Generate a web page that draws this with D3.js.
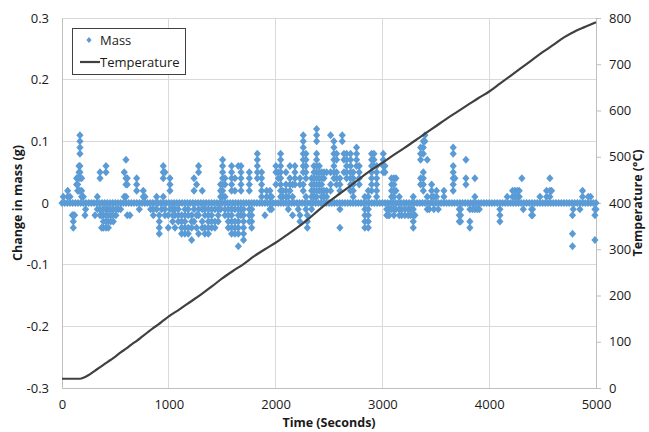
<!DOCTYPE html>
<html><head><meta charset="utf-8">
<script src="https://cdn.jsdelivr.net/npm/d3@7"></script>
<style>
html,body{margin:0;padding:0;background:#fff;}
svg{display:block;font-family:"Open Sans","Liberation Sans",sans-serif;}
</style></head>
<body>
<svg id="chart" width="649" height="432"></svg>
<script>
// ---------- data ----------
const xTicks = [0, 1000, 2000, 3000, 4000, 5000];
const massTicks = [-0.3, -0.2, -0.1, 0, 0.1, 0.2, 0.3];
const tempTicks = [0, 100, 200, 300, 400, 500, 600, 700, 800];

// Temperature (°C) vs time (s)
const tempTimes = [0,100,170,200,250,300,350,400,450,500,550,600,650,700,750,800,850,900,950,1000,
  1100,1200,1300,1400,1500,1600,1700,1800,1900,2000,2100,2200,2300,2400,2500,2600,2700,2800,2900,3000,
  3100,3200,3300,3400,3500,3600,3700,3800,3900,4000,4100,4200,4300,4400,4500,4600,4700,4800,4900,5000];
const tempValues = [20,20,20,22,28,36,44,52,60,68,77,85,94,102,111,120,129,137,146,155,
  170,186,202,219,237,253,268,285,300,314,330,346,364,384,403,420,437,455,472,487,
  503,518,534,550,566,582,597,612,627,641,658,675,692,709,726,742,758,771,781,791];

// Mass readings that sit on the zero line (s)
const massZeroTimes = [0,25,50,75,100,125,150,175,200,225,250,275,300,325,350,375,400,425,450,475,
  500,525,550,575,600,625,650,675,700,725,750,775,800,825,850,875,900,925,950,975,
  1000,1025,1050,1075,1100,1125,1150,1175,1200,1225,1250,1275,1300,1325,1350,1375,1400,1425,1450,1475,
  1500,1525,1550,1575,1600,1625,1650,1675,1700,1725,1750,1775,1800,1825,1850,1875,1900,1925,1950,1975,
  2000,2025,2050,2075,2100,2125,2150,2175,2200,2225,2250,2275,2300,2325,2350,2375,2400,2425,2450,2475,
  2500,2525,2550,2575,2600,2625,2650,2675,2700,2725,2750,2775,2800,2825,2850,2875,2900,2925,2950,2975,
  3000,3025,3050,3075,3100,3125,3150,3175,3200,3225,3250,3275,3300,3325,3350,3375,3400,3425,3450,3475,
  3500,3525,3550,3575,3600,3625,3650,3675,3700,3725,3750,3775,3800,3825,3850,3875,3900,3925,3950,3975,
  4000,4025,4050,4075,4100,4125,4150,4175,4200,4225,4250,4275,4300,4325,4350,4375,4400,4425,4450,4475,
  4500,4525,4550,4575,4600,4625,4650,4675,4700,4725,4750,4775,4800,4825,4850,4875,4900,4925,4950,4975,5000];

// Off-zero mass readings: time (s) and the change in mass values (g) seen at that time
const massTimes = [12,53,75,97,106,118,137,147,159,168,184,200,215,221,309,331,356,371,387,412,
  434,456,480,505,527,549,583,599,611,636,699,724,761,777,830,855,886,911,933,948,
  964,995,1011,1036,1058,1089,1120,1151,1182,1214,1236,1260,1279,1313,1338,1370,1401,1432,1463,1485,
  1504,1526,1557,1588,1619,1651,1676,1700,1754,1776,1829,1869,1900,1916,1947,1963,2003,2025,2047,2066,
  2097,2119,2134,2159,2181,2212,2228,2259,2284,2297,2337,2359,2384,2409,2431,2453,2478,2515,2546,2571,
  2602,2624,2640,2665,2702,2727,2758,2783,2836,2868,2899,2921,2946,3008,3024,3040,3055,3064,3086,3108,
  3127,3158,3180,3211,3242,3264,3289,3305,3358,3383,3398,3420,3439,3461,3482,3507,3523,3576,3663,3679,
  3720,3732,3782,3819,3844,3866,3888,3907,4100,4169,4219,4241,4263,4281,4306,4319,4397,4406,4475,4537,
  4568,4584,4780,4787,4849,4874,4927,4949,4990,5000];
const massValues = [
  [0.01],[0.02,0.01],[0.01],[-0.02],[-0.02,-0.03,-0.04],[-0.02],[0.04,0.03],[0.04,0.03,0.02],[0.06,0.05,0.02],
  [0.11,0.10,0.09,0.08,0.06,0.05,0.04,0.02],[0.04,0.02,0.01],[0.01],[-0.02],[-0.01],[-0.02],[0.01,-0.01],
  [0.05,0.04,-0.01,-0.02],[-0.02,-0.04],[-0.01,-0.02,-0.03,-0.04],[0.06,0.05,-0.01,-0.02,-0.03,-0.04],
  [-0.01,-0.02,-0.03,-0.04],[-0.01,-0.02,-0.03],[-0.01,-0.02,-0.03],[-0.01,-0.02],[-0.01],[-0.01],
  [0.05,0.01],[0.07,0.04,0.03,0.01],[0.04,0.03,-0.02],[-0.02],[0.04,0.03,0.02],[-0.01],[0.02,0.01],[0.01],
  [-0.01],[-0.01,-0.02],[0.01,-0.01],[-0.02,-0.03,-0.04,-0.05],[-0.01],[0.06,0.05,0.04,0.01],
  [0.05,-0.01,-0.02],[-0.02,-0.04],[0.04,0.03,0.02,-0.01],[-0.01,-0.02,-0.03],[-0.01,-0.02,-0.04],
  [-0.01,-0.02,-0.03],[-0.02,-0.03,-0.04,-0.05],[-0.01,-0.02,-0.03,-0.04,-0.05],[-0.01,-0.02,-0.04,-0.05],
  [-0.02,-0.03,-0.04,-0.06],[0.04,0.02,-0.01,-0.03],[0.03,-0.02,-0.04],[0.06,0.05,-0.01,-0.02,-0.05],
  [0.02,-0.01,-0.03,-0.04],[-0.01,-0.02,-0.04,-0.05],[-0.01,-0.02,-0.03,-0.04,-0.05],[-0.01,-0.02,-0.03,-0.04],
  [-0.01,-0.03,-0.04],[-0.01,-0.02,-0.03],[0.03,0.02,0.01,-0.01],
  [0.07,0.06,0.05,0.04,0.03,0.02,0.01],[0.04,0.03,0.01,-0.01,-0.02],[-0.01,-0.02,-0.03,-0.04],
  [0.06,0.05,0.04,0.03,0.02,-0.01,-0.02,-0.03,-0.04,-0.05],[0.04,0.02,-0.01,-0.03,-0.04,-0.05],
  [0.06,-0.01,-0.02,-0.03,-0.04,-0.05,-0.07],[0.06,0.05,0.04,0.03,0.02,-0.01,-0.02],
  [-0.01,-0.02,-0.03,-0.04,-0.05,-0.06],[0.05,0.04,0.03,0.02,-0.01,-0.02,-0.03],[-0.01,-0.02,-0.03,-0.04],
  [0.08,0.07,0.06,0.05,0.04],[0.05,0.04,0.03,0.02,0.01],[-0.02],[0.02,0.01],[0.02,0.01,-0.01],[0.01,-0.01],
  [0.06,0.05,0.03],[0.05,0.04],[0.08,0.07,0.06,0.05,0.04,0.03,0.02,0.01],[0.02,0.01],
  [0.05,0.03,0.02,0.01],[0.01,-0.01],[0.06,0.04,0.03,0.02],[0.03,0.01,-0.02],[0.06,0.05,0.04,0.03],[-0.01],
  [0.04,0.03,-0.02,-0.03],[0.11,0.10,0.09,0.08,0.07,0.06,0.05,0.03,0.02],[0.08,0.07,0.06,0.05,0.04,0.01,-0.01],
  [-0.02,-0.03,-0.04],[0.04,0.03,0.02,0.01,-0.01],[0.06,0.05,0.04,0.03,0.02,0.01],
  [0.12,0.11,0.10,0.08,0.07,0.06,0.05,0.04,0.03,0.02,0.01],[0.06,0.05,0.04,0.03,0.02],[0.05,0.04,0.03,0.02,0.01],
  [0.05,0.04,0.02,0.01],[0.05,0.02,0.01],[0.11,0.05,0.03,0.02],[0.10,0.09,0.08,0.07,0.06,0.05,0.04],
  [0.08,0.07,0.05,0.04,0.03],
  [0.04,0.03,0.02,-0.01,-0.04],[0.11,0.10],[0.08,0.07,0.05],[0.08,0.07,0.06,0.05,0.04],
  [0.08,0.07,0.06,0.05,0.04,0.03,0.02],[0.05,0.04,0.03,0.02,0.01],[0.09,0.08,0.07,0.06],[0.06,0.05,0.04,0.03],
  [0.01,-0.01,-0.02,-0.03,-0.04],[0.02,0.01,-0.01,-0.02,-0.03,-0.04],[0.08,0.07,0.06,0.05,0.04,0.03,0.02],
  [0.08,0.07,0.06],[0.06,0.05,0.04,0.03,0.02,0.01],[0.08,0.07,0.06,0.05],[0.06,0.05],[-0.01,-0.02],
  [-0.01,-0.02],[-0.01,-0.02],[0.04,0.03,0.02,0.01,-0.01],[0.04,0.03,0.02,0.01,-0.01,-0.02],
  [0.04,0.02,-0.01],[0.01,-0.01,-0.02],[-0.01,-0.02],[-0.01,-0.02],[-0.01,-0.02],[-0.01,-0.02],
  [0.01,-0.01,-0.02,-0.03,-0.04],[-0.02],[0.09,0.08,0.07,0.04,0.03],[0.10,0.09,0.08,0.05,0.04,0.03,0.02],
  [0.11,0.10],[0.07,0.01,-0.01],[-0.01],[0.03,0.02,0.01],[0.01,-0.01],[0.02,0.01],[-0.01],[0.02,0.01],
  [0.09,0.08,0.06,0.05,0.04,0.03,0.02],[0.04],
  [-0.01,-0.02,-0.03],[-0.01,-0.02,-0.03],[0.07,0.04,0.03],[-0.01,-0.03,-0.04],[-0.01],[0.04,0.01,-0.01],
  [-0.01],[-0.01],[-0.01,-0.02,-0.03],[0.01],[0.02,0.01],[0.02,0.01],[0.02,0.01],[0.02,0.01],[0.04],[-0.01],
  [-0.01,-0.02],[-0.01,-0.02],[0.01],[0.02,0.01],
  [0.04,0.02,0.01],[0.02],[-0.02,-0.05,-0.07],[-0.01],[-0.01],[0.02,0.01],[0.01],[0.01],[-0.01,-0.02,-0.06],[-0.01]
];

// ---------- chart ----------
const svg = d3.select("#chart");
const L = 62, R = 596, T = 18, B = 388;
const x = d3.scaleLinear().domain([0, 5000]).range([L, R]);
const yM = d3.scaleLinear().domain([-0.3, 0.3]).range([B, T]);
const yT = d3.scaleLinear().domain([0, 800]).range([B, T]);

const gridColor = "#d9d9d9", axisColor = "#bfbfbf", textColor = "#1a1a1a";

// gridlines
svg.append("g").selectAll("line.h").data(massTicks).join("line")
  .attr("x1", L).attr("x2", R).attr("y1", d => yM(d)).attr("y2", d => yM(d))
  .attr("stroke", gridColor).attr("stroke-width", 1).attr("shape-rendering", "crispEdges");
svg.append("g").selectAll("line.v").data(xTicks.slice(1, -1)).join("line")
  .attr("x1", d => x(d)).attr("x2", d => x(d)).attr("y1", T).attr("y2", B)
  .attr("stroke", gridColor).attr("stroke-width", 1).attr("shape-rendering", "crispEdges");

// axes
const axX = svg.append("g").attr("transform", `translate(0,${B})`)
  .call(d3.axisBottom(x).tickValues(xTicks).tickSize(0).tickPadding(12).tickFormat(d3.format("d")));
const axL = svg.append("g").attr("transform", `translate(${L},0)`)
  .call(d3.axisLeft(yM).tickValues(massTicks).tickSize(0).tickPadding(13)
    .tickFormat(d => d === 0 ? "0" : d.toFixed(1)));
const axR = svg.append("g").attr("transform", `translate(${R},0)`)
  .call(d3.axisRight(yT).tickValues(tempTicks).tickSize(5).tickPadding(8).tickFormat(d3.format("d")));
[axX, axL, axR].forEach(g => {
  g.select(".domain").attr("stroke", axisColor);
  g.selectAll(".tick line").attr("stroke", axisColor);
  g.selectAll("text").attr("fill", textColor).style("font-size", "13px")
    .style("font-family", '"Open Sans","Liberation Sans",sans-serif');
});

// mass points
const diamond = "M0,-4L3.6,0L0,4L-3.6,0Z";
const massColor = "#5b9bd5";
const pts = [];
massZeroTimes.forEach(t => pts.push([t, 0]));
massTimes.forEach((t, i) => massValues[i].forEach(v => pts.push([t, v])));
svg.append("g").selectAll("path").data(pts).join("path")
  .attr("d", diamond)
  .attr("transform", d => `translate(${x(d[0])},${yM(d[1])})`)
  .attr("fill", massColor);

// temperature line
const tempData = tempTimes.map((t, i) => [t, tempValues[i]]);
svg.append("path").datum(tempData)
  .attr("d", d3.line().x(d => x(d[0])).y(d => yT(d[1])).curve(d3.curveMonotoneX))
  .attr("fill", "none").attr("stroke", "#404040").attr("stroke-width", 2.2)
  .attr("stroke-linejoin", "round");

// axis titles
svg.append("text").attr("transform", `translate(22,${(T + B) / 2}) rotate(-90)`)
  .attr("text-anchor", "middle").attr("fill", textColor)
  .style("font-size", "12.5px").style("font-weight", "bold").text("Change in mass (g)");
svg.append("text").attr("transform", `translate(642,${(T + B) / 2}) rotate(-90)`)
  .attr("text-anchor", "middle").attr("fill", textColor)
  .style("font-size", "12.5px").style("font-weight", "bold").text("Temperature (°C)");
svg.append("text").attr("x", (L + R) / 2).attr("y", 427)
  .attr("text-anchor", "middle").attr("fill", textColor)
  .style("font-size", "12.5px").style("font-weight", "bold").text("Time (Seconds)");

// legend
const lg = svg.append("g");
lg.append("rect").attr("x", 72.5).attr("y", 28.5).attr("width", 113).attr("height", 46)
  .attr("fill", "#fff").attr("stroke", "#404040").attr("stroke-width", 1);
lg.append("path").attr("d", "M0,-3L2.6,0L0,3L-2.6,0Z").attr("transform", "translate(89,40)").attr("fill", massColor);
lg.append("text").attr("x", 100).attr("y", 44.5).attr("fill", textColor).style("font-size", "13px").text("Mass");
lg.append("line").attr("x1", 80).attr("x2", 100).attr("y1", 62).attr("y2", 62)
  .attr("stroke", "#404040").attr("stroke-width", 2.2);
lg.append("text").attr("x", 100).attr("y", 66.5).attr("fill", textColor).style("font-size", "13px").text("Temperature");
</script>
</body></html>
